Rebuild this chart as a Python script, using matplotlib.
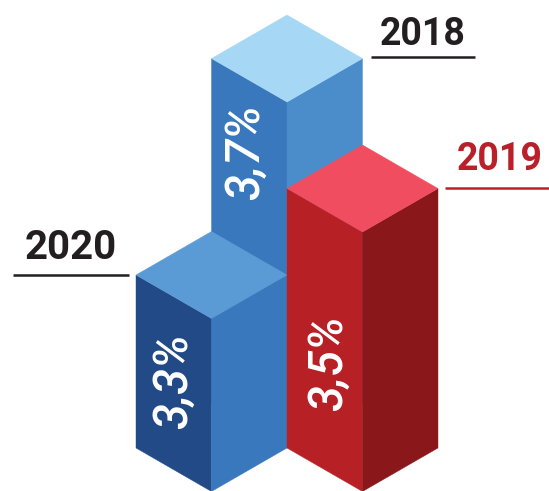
import matplotlib
matplotlib.use("Agg")
import matplotlib.pyplot as plt
from matplotlib.patches import Polygon

years = ["2018", "2019", "2020"]
values = [3.7, 3.5, 3.3]
labels = ["3,7%", "3,5%", "3,3%"]
year_colors = ["#231f20", "#b9202a", "#231f20"]
top_colors = ["#a6d8f6", "#f04e60", "#5b9bd5"]
left_colors = ["#3a78bd", "#b72025", "#214a87"]
right_colors = ["#4b8dca", "#8a1719", "#3a78bd"]
# floor cell of each bar
cols = [0, 1, 0]
rows = [1, 1, 0]

W, H = 549, 491
BASE = 2.9      # value at floor level
SCALE = 432.5   # px per value unit
DX, DY = 75.5, 43.5
X0, Y0 = 136, 448

def project(c, r, v):
    """Isometric projection of floor cell coords and a value onto the canvas."""
    x = X0 + (c + r) * DX
    y = Y0 + (c - r) * DY - (v - BASE) * SCALE
    return x, y

fig = plt.figure(figsize=(W / 100, H / 100), dpi=100)
ax = fig.add_axes([0, 0, 1, 1])
ax.set_xlim(0, W)
ax.set_ylim(H, 0)
ax.axis("off")

order = [0, 2, 1]
for i in order:
    c, r, v = cols[i], rows[i], values[i]
    left = [project(c, r, BASE), project(c + 1, r, BASE), project(c + 1, r, v), project(c, r, v)]
    right = [project(c + 1, r, BASE), project(c + 1, r + 1, BASE), project(c + 1, r + 1, v), project(c + 1, r, v)]
    top = [project(c, r, v), project(c + 1, r, v), project(c + 1, r + 1, v), project(c, r + 1, v)]
    ax.add_patch(Polygon(left, closed=True, fc=left_colors[i], ec=left_colors[i], lw=0.3))
    ax.add_patch(Polygon(right, closed=True, fc=right_colors[i], ec=right_colors[i], lw=0.3))
    ax.add_patch(Polygon(top, closed=True, fc=top_colors[i], ec=top_colors[i], lw=0.3))

font = "Roboto"
label_pos = [(246, 152), (329, 363), (174, 381)]
for t, (x, y) in zip(labels, label_pos):
    ax.text(x, y, t, rotation=90, ha="center", va="center", color="white",
            fontsize=34, fontweight="medium", fontstyle="italic", family=font)

year_pos = [(423, 34), (500, 159), (71, 248)]
year_sizes = [27, 27, 29]
rule_pos = [(371, 475, 57), (445, 549, 188), (13, 129, 275)]
for t, col, (x, y), (x0, x1, yy), fs in zip(years, year_colors, year_pos, rule_pos, year_sizes):
    ax.text(x, y, t, ha="center", va="center", color=col, fontsize=fs,
            fontweight="bold", family=font)
    ax.plot([x0, x1], [yy, yy], color=col, lw=1.8, solid_capstyle="butt")

fig.savefig("out.png", dpi=100)
